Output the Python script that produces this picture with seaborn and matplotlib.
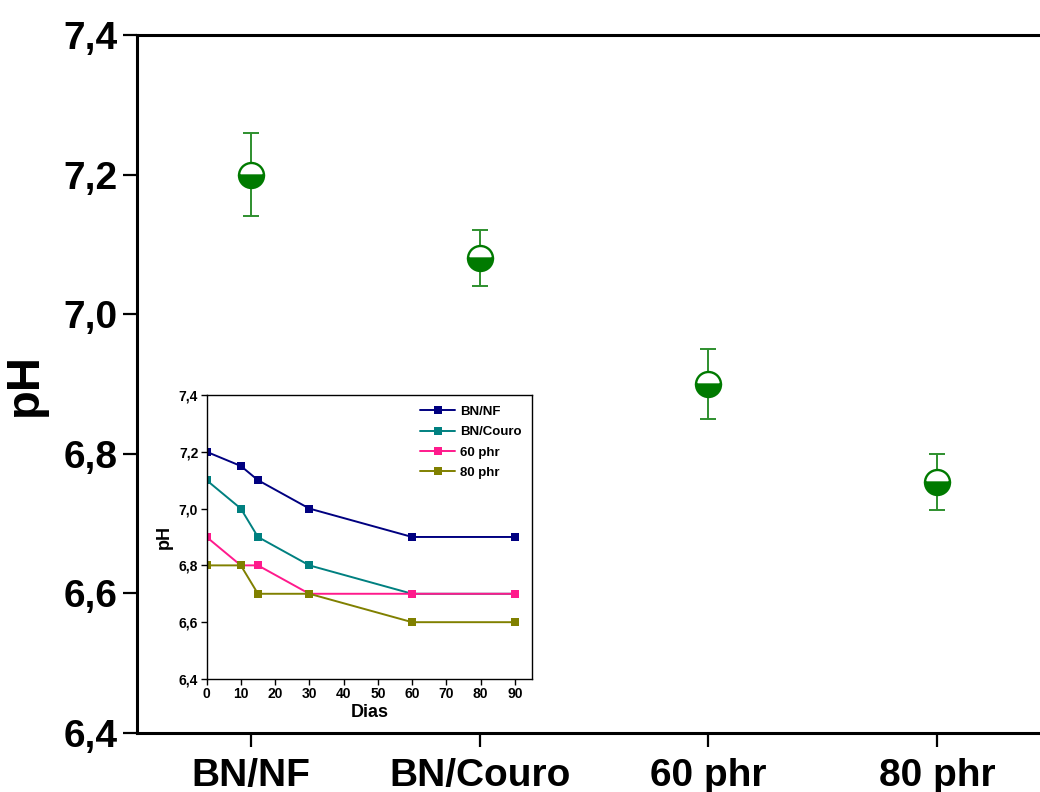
import numpy as np
import pandas as pd
import matplotlib
matplotlib.use("Agg")
import matplotlib.pyplot as plt
import seaborn as sns

# dados principais (pH por formulação)
amostras = ["BN/NF", "BN/Couro", "60 phr", "80 phr"]
ph_medio = [7.20, 7.08, 6.90, 6.76]
ph_erro = [0.06, 0.04, 0.05, 0.04]

# dados do inset (pH ao longo dos dias)
dias = [0, 10, 15, 30, 60, 90]
ph_bn_nf = [7.20, 7.15, 7.10, 7.00, 6.90, 6.90]
ph_bn_couro = [7.10, 7.00, 6.90, 6.80, 6.70, 6.70]
ph_60phr = [6.90, 6.80, 6.80, 6.70, 6.70, 6.70]
ph_80phr = [6.80, 6.80, 6.70, 6.70, 6.60, 6.60]

cores_inset = ["#000080", "#008080", "#FF1A8C", "#808000"]

sns.set_style("ticks")
plt.rcParams["font.family"] = ["Liberation Sans", "DejaVu Sans"]
plt.rcParams["font.weight"] = "bold"
plt.rcParams["text.color"] = "black"
plt.rcParams["axes.labelcolor"] = "black"
plt.rcParams["xtick.color"] = "black"
plt.rcParams["ytick.color"] = "black"

fig = plt.figure(figsize=(10.4, 7.92), dpi=100)
ax = fig.add_axes([0.1317, 0.0745, 0.879, 0.8813])

# barras de erro
ax.errorbar(amostras, ph_medio, yerr=ph_erro, fmt="none",
            ecolor="#2e8f2e", elinewidth=1.4, capsize=6, capthick=1.4, zorder=2)
# marcadores meio preenchidos
ax.plot(amostras, ph_medio, linestyle="none", marker="o", markersize=18,
        fillstyle="bottom", markerfacecolor="#007a00", markerfacecoloralt="white",
        markeredgecolor="#007a00", markeredgewidth=1.7, zorder=3)

ax.set_xlim(-0.5, 3.5)
ax.set_ylim(6.4, 7.4)
ax.set_yticks(np.arange(6.4, 7.41, 0.2))
ax.set_yticklabels([f"{v:.1f}".replace(".", ",") for v in np.arange(6.4, 7.41, 0.2)])
ax.set_ylabel("pH", fontsize=34, fontweight="bold")
ax.yaxis.set_label_coords(-0.098, 0.5)

for s in ["left", "bottom", "top"]:
    ax.spines[s].set_linewidth(2.2)
    ax.spines[s].set_color("black")
ax.spines["right"].set_visible(False)
ax.tick_params(axis="y", direction="out", length=10, width=1.6, labelsize=28, pad=4)
ax.tick_params(axis="x", direction="out", length=10, width=1.6, labelsize=28, pad=8)
for lbl in ax.get_xticklabels() + ax.get_yticklabels():
    lbl.set_fontweight("bold")

# inset
axi = fig.add_axes([0.1986, 0.1427, 0.313, 0.3586])
df = pd.DataFrame({
    "Dias": dias * 4,
    "pH": ph_bn_nf + ph_bn_couro + ph_60phr + ph_80phr,
    "Amostra": sum([[a] * len(dias) for a in amostras], []),
})
sns.lineplot(data=df, x="Dias", y="pH", hue="Amostra", palette=cores_inset,
             marker="s", markersize=5.5, markeredgewidth=0, linewidth=1.4, ax=axi)

axi.set_xlim(0, 95)
axi.set_ylim(6.4, 7.4)
axi.set_xticks(range(0, 91, 10))
axi.set_yticks(np.arange(6.4, 7.41, 0.2))
axi.set_yticklabels([f"{v:.1f}".replace(".", ",") for v in np.arange(6.4, 7.41, 0.2)])
axi.tick_params(direction="out", length=4, width=1, labelsize=10, pad=2)
for lbl in axi.get_xticklabels() + axi.get_yticklabels():
    lbl.set_fontweight("bold")
axi.set_xlabel("Dias", fontsize=13, fontweight="bold", labelpad=2)
axi.set_ylabel("pH", fontsize=13, fontweight="bold", labelpad=4)
for s in axi.spines.values():
    s.set_linewidth(1)
    s.set_color("black")

leg = axi.legend(loc="upper right", frameon=False,
                 handlelength=2.6, labelspacing=0.62, borderaxespad=0.4,
                 handletextpad=0.4, prop={"weight": "bold", "size": 9.5})

fig.savefig("out.png", dpi=100, facecolor="white")
